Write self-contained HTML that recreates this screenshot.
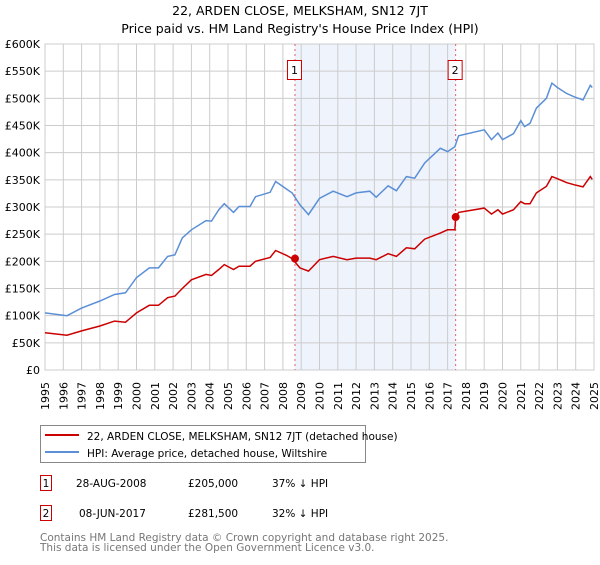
<!DOCTYPE html>
<html><head><meta charset="utf-8"><style>
body{margin:0;background:#fff;font-family:"Liberation Sans","DejaVu Sans",sans-serif;}
svg text{font-family:"DejaVu Sans","Liberation Sans",sans-serif;}
</style></head><body>
<svg id="chart" width="600" height="560" xmlns="http://www.w3.org/2000/svg">
<text x="300" y="15" text-anchor="middle" font-size="12.5" fill="#000">22, ARDEN CLOSE, MELKSHAM, SN12 7JT</text>
<text x="300" y="33" text-anchor="middle" font-size="12.5" fill="#000">Price paid vs. HM Land Registry's House Price Index (HPI)</text>
<g id="plot"></g>
<g>
<rect x="40.5" y="425.5" width="325" height="37" fill="#fff" stroke="#888"/>
<line x1="45" y1="435" x2="79" y2="435" stroke="#cc0000" stroke-width="2"/>
<text x="87" y="440" font-size="10.5">22, ARDEN CLOSE, MELKSHAM, SN12 7JT (detached house)</text>
<line x1="45" y1="452" x2="79" y2="452" stroke="#5b8fd6" stroke-width="2"/>
<text x="87" y="457" font-size="10.5">HPI: Average price, detached house, Wiltshire</text>
</g>
<g>
<rect x="40.5" y="475.5" width="11" height="15" fill="#fff" stroke="#cc0000"/>
<text x="46" y="487" text-anchor="middle" font-size="10.5">1</text>
<text x="76" y="487" font-size="10.5">28-AUG-2008</text>
<text x="188" y="487" font-size="10.5">£205,000</text>
<text x="272" y="487" font-size="10.5">37% ↓ HPI</text>
</g>
<g>
<rect x="40.5" y="505.5" width="11" height="15" fill="#fff" stroke="#cc0000"/>
<text x="46" y="517" text-anchor="middle" font-size="10.5">2</text>
<text x="79" y="517" font-size="10.5">08-JUN-2017</text>
<text x="188" y="517" font-size="10.5">£281,500</text>
<text x="272" y="517" font-size="10.5">32% ↓ HPI</text>
</g>
<text x="40" y="541" font-size="10.5" fill="#777">Contains HM Land Registry data © Crown copyright and database right 2025.</text>
<text x="40" y="551" font-size="10.5" fill="#777">This data is licensed under the Open Government Licence v3.0.</text>
</svg>
<script>
const hpiYears=[1995,1996.2,1997,1998,1998.8,1999.4,2000,2000.7,2001.2,2001.7,2002.1,2002.5,2003,2003.8,2004.1,2004.5,2004.8,2005.3,2005.6,2006.2,2006.5,2007.3,2007.6,2008.2,2008.5,2008.93,2009.4,2010,2010.75,2011.5,2012,2012.75,2013.1,2013.75,2014.2,2014.75,2015.2,2015.75,2016.6,2017,2017.4,2017.6,2019,2019.4,2019.75,2020,2020.6,2021,2021.2,2021.5,2021.85,2022.4,2022.7,2023,2023.5,2023.9,2024.4,2024.8,2024.9];
const hpiValues=[105,100,114,127,139,142,170,188,188,209,212,243,258,275,274,295,306,290,301,301,319,327,347,333,326,304,286,316,329,319,326,329,318,339,330,356,353,381,408,402,411,431,442,424,436,424,435,459,448,454,482,500,528,520,509,503,497,524,520];
const priceYears=[1995,1996.2,1997,1998,1998.8,1999.4,2000,2000.7,2001.2,2001.7,2002.1,2002.5,2003,2003.8,2004.1,2004.5,2004.8,2005.3,2005.6,2006.2,2006.5,2007.3,2007.6,2008.2,2008.5,2008.93,2009.4,2010,2010.75,2011.5,2012,2012.75,2013.1,2013.75,2014.2,2014.75,2015.2,2015.75,2016.6,2017,2017.4,2017.44,2017.6,2019,2019.4,2019.75,2020,2020.6,2021,2021.2,2021.5,2021.85,2022.4,2022.7,2023,2023.5,2023.9,2024.4,2024.8,2024.9];
const priceValues=[68.5,64,72,81,90,88,105,119,119,133,136,150,166,176,174,185,194,185,191,191,200,207,220,211,205,188,182,203,209,203,206,206,203,214,209,225,223,241,252,258,258,281.5,290,298,287,295,287,295,310,306,306,326,338,356,352,345,341,337,356,351];
const saleYears=[2008.66,2017.44];
const saleValues=[205,281.5];
const saleLabels=["1","2"];
const yTicks=[0,50,100,150,200,250,300,350,400,450,500,550,600];
const yTickLabels=["£0","£50K","£100K","£150K","£200K","£250K","£300K","£350K","£400K","£450K","£500K","£550K","£600K"];
const xTicks=[1995,1996,1997,1998,1999,2000,2001,2002,2003,2004,2005,2006,2007,2008,2009,2010,2011,2012,2013,2014,2015,2016,2017,2018,2019,2020,2021,2022,2023,2024,2025];

const L=45,R=594,T=44,B=370;
const x=y=>L+(y-1995)/30*(R-L);
const yv=v=>B-v/600*(B-T);
const NS="http://www.w3.org/2000/svg";
const g=document.getElementById('plot');
function mk(tag,attrs,parent){const e=document.createElementNS(NS,tag);for(const k in attrs)e.setAttribute(k,attrs[k]);(parent||g).appendChild(e);return e;}
let sh=mk('rect',{x:x(saleYears[0]),y:T,width:x(saleYears[1])-x(saleYears[0]),height:B-T,fill:'#eef3fc'});


xTicks.forEach(t=>{
 let l=mk('line',{x1:x(t),x2:x(t),y1:T,y2:B,stroke:'#cccccc','stroke-width':1});
 
 
 let wrap=mk('g',{transform:'translate('+(x(t)+4).toFixed(1)+','+(B+12)+') rotate(-90)'});
 let tx=mk('text',{x:0,y:0,'font-size':11,'text-anchor':'end'},wrap);
 tx.textContent=t;
 
 
});
yTicks.forEach((t,i)=>{
 let l=mk('line',{x1:L,x2:R,y1:yv(t),y2:yv(t),stroke:'#cccccc','stroke-width':1});
 
 
 let tx=mk('text',{x:40,y:yv(t)+4,'font-size':11,'text-anchor':'end'});
 tx.textContent=yTickLabels[i];
 
 
});
let bd=mk('rect',{x:L,y:T,width:R-L,height:B-T,fill:'none',stroke:'#cccccc'});


saleYears.forEach((s,i)=>{
 let l=mk('line',{x1:x(s),x2:x(s),y1:T,y2:B,stroke:'#e06060','stroke-dasharray':'2,3','stroke-width':1});
 
 
 let r=mk('rect',{x:x(s)-7.5,y:60.5,width:14,height:19,fill:'#fff',stroke:'#cc0000'});
 
 
 let t=mk('text',{x:x(s)-0.5,y:74,'font-size':11,'text-anchor':'middle'});
 t.textContent=saleLabels[i];
 
 
});
const pts=(ys,vs)=>ys.map((a,i)=>x(a).toFixed(1)+','+yv(vs[i]).toFixed(1)).join(' ');
let hp=mk('polyline',{points:pts(hpiYears,hpiValues),fill:'none',stroke:'#5b8fd6','stroke-width':1.5});


let pp=mk('polyline',{points:pts(priceYears,priceValues),fill:'none',stroke:'#cc0000','stroke-width':1.5});


saleYears.forEach((s,i)=>{
 let c=mk('circle',{cx:x(s),cy:yv(saleValues[i]),r:4,fill:'#cc0000'});
 
 
});
</script>
</body></html>
